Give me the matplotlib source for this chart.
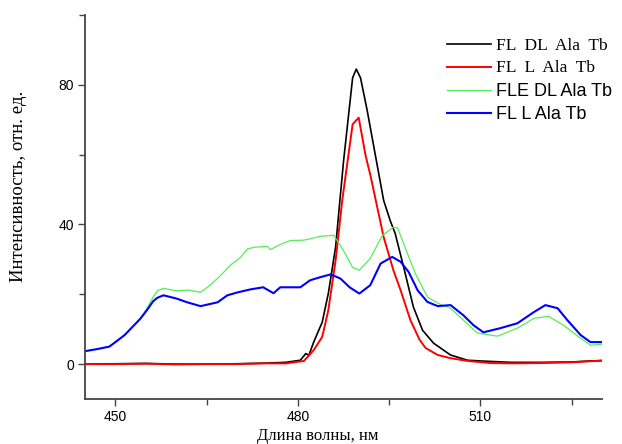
import matplotlib
matplotlib.use('Agg')
import matplotlib.pyplot as plt
from matplotlib.ticker import MultipleLocator

# wavelength (nm) / intensity pairs
wl_fl_dl = [445, 450, 455, 460, 465, 470, 475, 478, 480.4, 481.3, 481.8, 482.6, 484, 485,
            486.2, 487.5, 489, 489.6, 490.3, 491.4, 493.1, 494.1, 495.2, 496, 497.4, 499,
            500.5, 502.3, 505.1, 507.9, 510, 515, 520, 525, 528, 530]
fl_dl = [0.0, 0.1, 0.2, 0.0, 0.0, 0.1, 0.3, 0.5, 1.1, 3.0, 2.5, 6.3, 12, 20.2,
         33.5, 58, 82, 84.5, 82, 72.6, 56.4, 46.9, 41, 37.4, 27.7, 16.3,
         9.7, 6.0, 2.6, 1.1, 0.9, 0.5, 0.5, 0.6, 0.9, 1.0]

wl_fl_l = [445, 450, 455, 460, 465, 470, 475, 478, 481, 482.6, 484, 485, 486.2, 487.3,
           489, 490, 491.1, 492, 493.1, 494.1, 495.7, 496.9, 498.5, 500, 501, 503, 505.1,
           507.9, 511.7, 515, 520, 525, 528, 530]
fl_l = [0.0, 0.0, 0.1, -0.1, 0.0, 0.0, 0.2, 0.2, 0.9, 4.0, 7.8, 15.4, 29.7, 47,
        68.7, 70.6, 60, 53.5, 44.5, 36.4, 26.9, 21.1, 12.6, 7.0, 4.6, 2.6, 1.7,
        0.9, 0.3, 0.2, 0.3, 0.5, 0.8, 1.0]

wl_fle_dl = [445, 447, 449, 450, 451.5, 453, 454.1, 455.2, 456.2, 456.9, 457.9, 460, 462,
             464, 465.5, 467.3, 469, 470.6, 471.7, 473, 475, 475.5, 477, 478.8, 481, 483.7,
             485.9, 487.5, 489, 490.1, 491.9, 493.9, 495.7, 496.4, 498, 499.3, 501.3,
             503.4, 505.1, 507.2, 509.5, 512.8, 516.1, 518.8, 521.2, 523.7, 526.5, 528.1, 530]
fle_dl = [3.7, 4.3, 5.0, 6.3, 8.3, 11.0, 13.0, 16.0, 19.2, 21.0, 21.7, 21.0, 21.2,
          20.6, 22.5, 25.4, 28.5, 30.6, 33.0, 33.5, 33.7, 32.8, 34.2, 35.4, 35.5, 36.6,
          36.9, 32.5, 27.7, 26.9, 30.3, 36.9, 39.2, 39.0, 31.7, 26.0, 19.2,
          17.1, 16.0, 12.6, 8.9, 8.0, 10.3, 13.1, 13.7, 11.1, 7.4, 5.4, 5.7]

wl_fl_l2 = [445, 447, 449, 450, 451.5, 453, 454.1, 455.2, 456.2, 456.9, 457.9, 460, 461.8,
            464, 466.8, 468.4, 470, 472.2, 474.3, 476, 477.1, 480.4, 482, 483.7, 485.4,
            487, 488.5, 490.1, 491.9, 493.6, 495.5, 496.9, 498.2, 499.7, 501.3, 503,
            505.1, 507.2, 508.9, 510.5, 513.3, 516.1, 518.8, 520.7, 522.7, 524.3, 526.5,
            528.1, 530]
fl_l2 = [3.7, 4.3, 5.0, 6.3, 8.3, 11.0, 13.0, 15.5, 18.0, 19.0, 19.7, 18.8, 17.7,
         16.6, 17.7, 19.7, 20.5, 21.4, 22.0, 20.3, 22.0, 22.0, 24.0, 24.9, 25.7,
         24.5, 22.0, 20.2, 22.6, 28.8, 30.7, 29.3, 26.4, 21.1, 17.8, 16.6,
         16.9, 14.0, 11.1, 9.1, 10.3, 11.7, 14.9, 16.9, 16.0, 12.6, 8.3,
         6.3, 6.3]

labels = ['FL  DL  Ala  Tb', 'FL  L  Ala  Tb', 'FLE DL Ala Tb', 'FL L Ala Tb']

fig = plt.figure(figsize=(6.22, 4.44), dpi=100)
ax = fig.add_axes([85 / 622, 45 / 444, 517 / 622, 384 / 444])

ax.plot(wl_fl_dl, fl_dl, color='black', lw=1.2, label=labels[0])
ax.plot(wl_fl_l, fl_l, color='#ff0000', lw=1.4, label=labels[1])
ax.plot(wl_fle_dl, fle_dl, color='#55ee55', lw=0.9, label=labels[2])
ax.plot(wl_fl_l2, fl_l2, color='#0000ff', lw=1.5, label=labels[3])

ax.set_xlim(445, 530)
ax.set_ylim(-10, 100)
ax.xaxis.set_major_locator(MultipleLocator(30))
ax.xaxis.set_minor_locator(MultipleLocator(15))
ax.yaxis.set_major_locator(MultipleLocator(40))
ax.yaxis.set_minor_locator(MultipleLocator(20))

for s in ['top', 'right']:
    ax.spines[s].set_visible(False)
for s in ['left', 'bottom']:
    ax.spines[s].set_color('#444444')
    ax.spines[s].set_linewidth(1.3)

ax.tick_params(which='major', direction='out', length=5, width=1, color='#444444',
               labelsize=10, pad=3)
ax.tick_params(which='minor', direction='out', length=4, width=1, color='#444444')
for t in ax.get_xticklabels() + ax.get_yticklabels():
    t.set_fontfamily('Liberation Sans')

ax.set_xlabel('Длина волны, нм', fontfamily='Liberation Serif', fontsize=12)
ax.xaxis.set_label_coords(0.45, -0.075)
ax.set_ylabel('Интенсивность, отн. ед.', fontfamily='Liberation Serif', fontsize=13.5)
ax.yaxis.set_label_coords(-0.113, 0.555)

leg = ax.legend(loc='upper left', bbox_to_anchor=(439 / 622, 1 - 30 / 444),
                bbox_transform=fig.transFigure, frameon=False, handlelength=2.6,
                handletextpad=0.3, labelspacing=0.37, borderpad=0, fontsize=12)
texts = leg.get_texts()
for t in texts[:2]:
    t.set_fontfamily('Liberation Serif')
    t.set_fontsize(12.5)
for t in texts[2:]:
    t.set_fontfamily('Liberation Sans')
    t.set_fontsize(13)

fig.savefig('out.png', dpi=100)
